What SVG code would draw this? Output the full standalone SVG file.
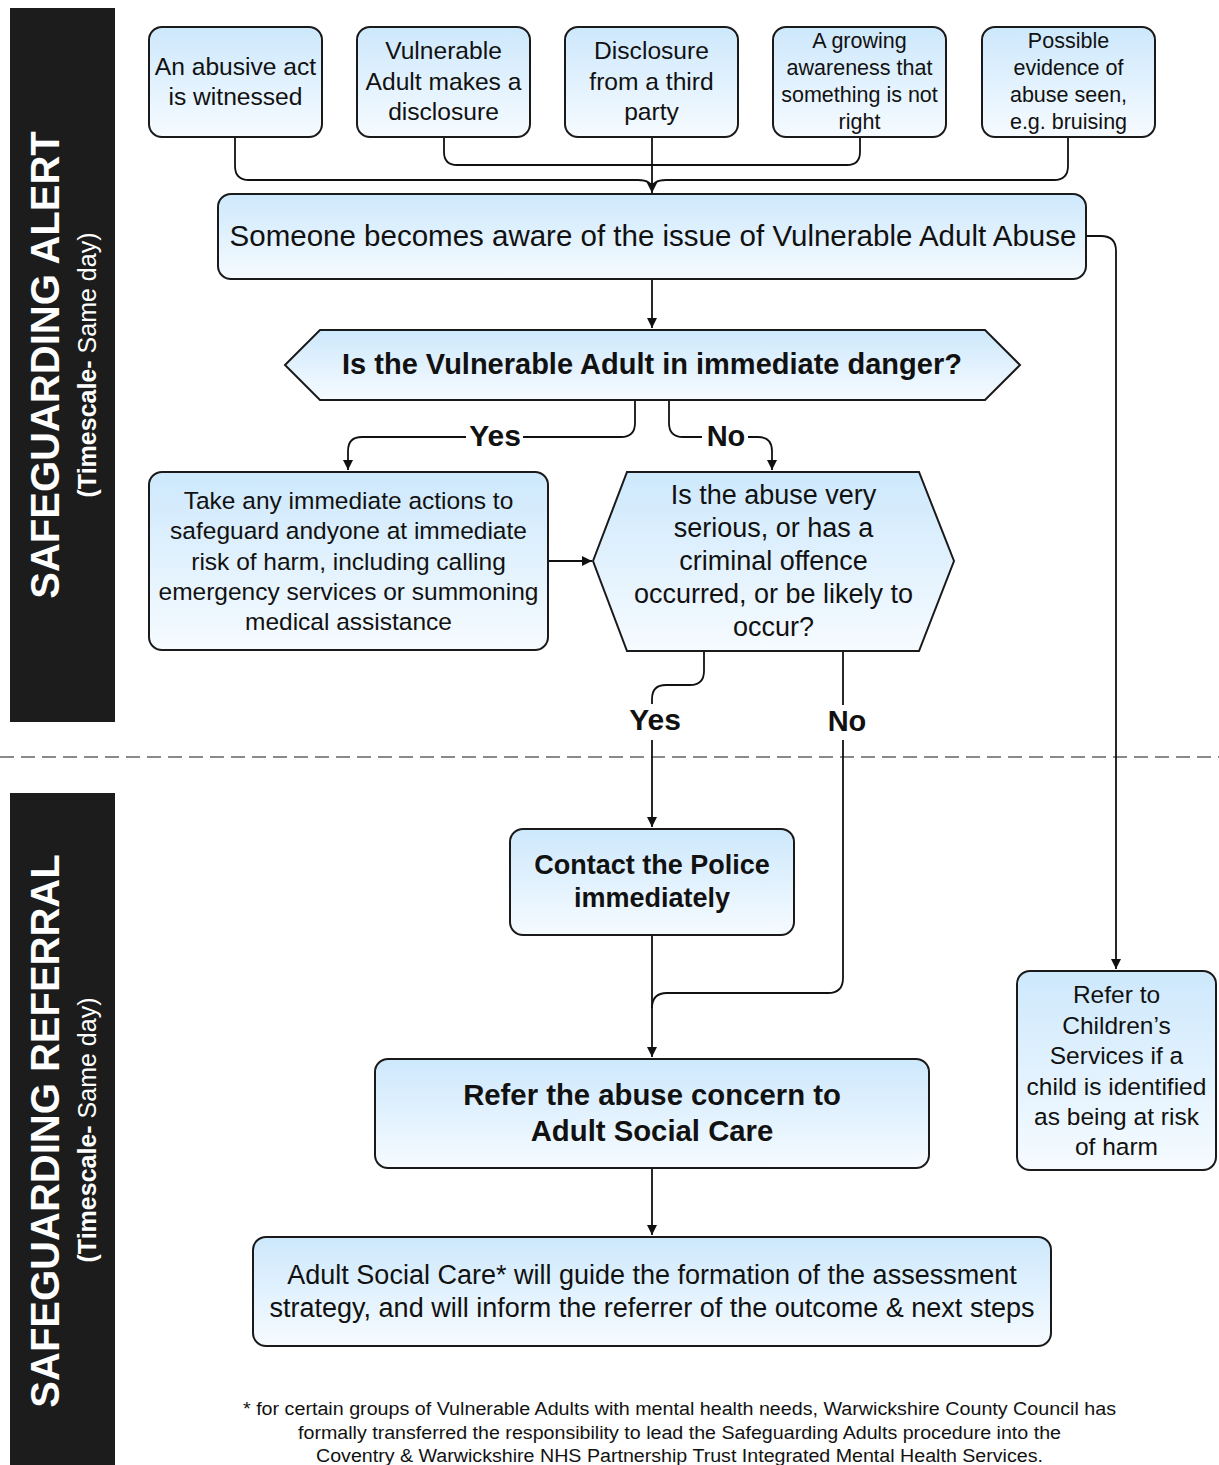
<svg xmlns="http://www.w3.org/2000/svg" width="1219" height="1465" viewBox="0 0 1219 1465">
<defs>
<linearGradient id="g" x1="0" y1="0" x2="0" y2="1">
<stop offset="0" stop-color="#cde8fc"/>
<stop offset="1" stop-color="#f6fbff"/>
</linearGradient>
<marker id="arr" markerUnits="userSpaceOnUse" markerWidth="12" markerHeight="12" refX="10" refY="6" orient="auto">
<path d="M0,1 L10,6 L0,11 Z" fill="#111"/>
</marker>
<style>
.box{fill:url(#g);stroke:#1a1a1a;stroke-width:2}
.t{font-family:"Liberation Sans",Arial,sans-serif;fill:#111;text-anchor:middle}
.b{font-weight:bold}
.c{fill:none;stroke:#111;stroke-width:1.8}
.a{marker-end:url(#arr)}
.bar{fill:#1c1c1c}
.w{font-family:"Liberation Sans",Arial,sans-serif;fill:#fff;text-anchor:middle}
</style>
</defs>
<rect width="1219" height="1465" fill="#fff"/>

<g id="bar-alert">
<rect class="bar" x="10" y="8" width="105" height="714"/>
<text class="w b" font-size="40" transform="translate(59,365) rotate(-90)">SAFEGUARDING ALERT</text>
<text class="w" font-size="25" transform="translate(96,365) rotate(-90)"><tspan font-weight="bold">(Timescale-</tspan> Same day)</text>
</g>
<g id="bar-referral">
<rect class="bar" x="10" y="793" width="105" height="672"/>
<text class="w b" font-size="40" transform="translate(59,1131) rotate(-90)">SAFEGUARDING REFERRAL</text>
<text class="w" font-size="25" transform="translate(96,1130) rotate(-90)"><tspan font-weight="bold">(Timescale-</tspan> Same day)</text>
</g>

<line x1="0" y1="757" x2="1219" y2="757" stroke="#8a8a8a" stroke-width="2" stroke-dasharray="14,7"/>

<g id="connectors">
<path class="c" d="M235,137 V166 Q235,180 249,180 H638 Q652,180 652,190"/>
<path class="c" d="M444,137 V152 Q444,165 457,165 H652"/>
<path class="c a" d="M652,137 V193"/>
<path class="c" d="M860,137 V152 Q860,165 847,165 H652"/>
<path class="c" d="M1068,137 V166 Q1068,180 1054,180 H666 Q652,180 652,190"/>
<path class="c a" d="M652,279 V328"/>
<path class="c" d="M635,401 V423 Q635,437 621,437 H523"/>
<path class="c a" d="M466,437 H362 Q348,437 348,451 V470"/>
<path class="c" d="M669,401 V423 Q669,437 683,437 H702"/>
<path class="c a" d="M748,437 H758 Q772,437 772,451 V470"/>
<path class="c a" d="M548,561 H592"/>
<path class="c" d="M704,651 V671 Q704,685 690,685 H666 Q652,685 652,699 V704"/>
<path class="c a" d="M652,740 V827"/>
<path class="c" d="M843,651 V705"/>
<path class="c" d="M843,740 V978 Q843,993 828,993 H667 Q652,993 652,1008"/>
<path class="c a" d="M652,935 V1057"/>
<path class="c a" d="M652,1168 V1235"/>
<path class="c a" d="M1086,236 H1101 Q1116,236 1116,251 V969"/>
</g>

<g id="labels">
<text class="t b" font-size="30" x="495" y="446">Yes</text>
<text class="t b" font-size="29" x="726" y="446">No</text>
<text class="t b" font-size="30" x="655" y="730">Yes</text>
<text class="t b" font-size="29" x="847" y="731">No</text>
</g>

<g id="n1">
<rect class="box" x="149" y="27" width="173" height="110" rx="13"/>
<text class="t" font-size="24.6"><tspan x="235.5" y="75">An abusive act</tspan><tspan x="235.5" y="105">is witnessed</tspan></text>
</g>
<g id="n2">
<rect class="box" x="357" y="27" width="173" height="110" rx="13"/>
<text class="t" font-size="24.6"><tspan x="443.5" y="59">Vulnerable</tspan><tspan x="443.5" y="90">Adult makes a</tspan><tspan x="443.5" y="120">disclosure</tspan></text>
</g>
<g id="n3">
<rect class="box" x="565" y="27" width="173" height="110" rx="13"/>
<text class="t" font-size="24.6"><tspan x="651.5" y="59">Disclosure</tspan><tspan x="651.5" y="90">from a third</tspan><tspan x="651.5" y="120">party</tspan></text>
</g>
<g id="n4">
<rect class="box" x="773" y="27" width="173" height="110" rx="13"/>
<text class="t" font-size="21.5"><tspan x="859.5" y="48">A growing</tspan><tspan x="859.5" y="75">awareness that</tspan><tspan x="859.5" y="102">something is not</tspan><tspan x="859.5" y="129">right</tspan></text>
</g>
<g id="n5">
<rect class="box" x="982" y="27" width="173" height="110" rx="13"/>
<text class="t" font-size="21.5"><tspan x="1068.5" y="48">Possible</tspan><tspan x="1068.5" y="75">evidence of</tspan><tspan x="1068.5" y="102">abuse seen,</tspan><tspan x="1068.5" y="129">e.g. bruising</tspan></text>
</g>

<g id="aware">
<rect class="box" x="218" y="194" width="868" height="85" rx="13"/>
<text class="t" font-size="29.5" x="653" y="246">Someone becomes aware of the issue of Vulnerable Adult Abuse</text>
</g>

<g id="danger">
<polygon class="box" points="285,365 320,330 985,330 1020,365 985,400 320,400"/>
<text class="t b" font-size="29" x="652" y="374">Is the Vulnerable Adult in immediate danger?</text>
</g>

<g id="actions">
<rect class="box" x="149" y="472" width="399" height="178" rx="13"/>
<text class="t" font-size="24.5"><tspan x="348.5" y="509">Take any immediate actions to</tspan><tspan x="348.5" y="539">safeguard andyone at immediate</tspan><tspan x="348.5" y="570">risk of harm, including calling</tspan><tspan x="348.5" y="600">emergency services or summoning</tspan><tspan x="348.5" y="630">medical assistance</tspan></text>
</g>

<g id="serious">
<polygon class="box" points="593,561 627,472 919,472 954,561 919,651 627,651"/>
<text class="t" font-size="27"><tspan x="773.5" y="504">Is the abuse very</tspan><tspan x="773.5" y="537">serious, or has a</tspan><tspan x="773.5" y="570">criminal offence</tspan><tspan x="773.5" y="603">occurred, or be likely to</tspan><tspan x="773.5" y="636">occur?</tspan></text>
</g>

<g id="police">
<rect class="box" x="510" y="829" width="284" height="106" rx="13"/>
<text class="t b" font-size="27"><tspan x="652" y="874">Contact the Police</tspan><tspan x="652" y="907">immediately</tspan></text>
</g>

<g id="refer">
<rect class="box" x="375" y="1059" width="554" height="109" rx="13"/>
<text class="t b" font-size="29.3"><tspan x="652" y="1105">Refer the abuse concern to</tspan><tspan x="652" y="1141">Adult Social Care</tspan></text>
</g>

<g id="asc">
<rect class="box" x="253" y="1237" width="798" height="109" rx="13"/>
<text class="t" font-size="27"><tspan x="652" y="1284">Adult Social Care* will guide the formation of the assessment</tspan><tspan x="652" y="1317">strategy, and will inform the referrer of the outcome &amp; next steps</tspan></text>
</g>

<g id="children">
<rect class="box" x="1017" y="971" width="199" height="199" rx="13"/>
<text class="t" font-size="24.5"><tspan x="1116.5" y="1003">Refer to</tspan><tspan x="1116.5" y="1034">Children’s</tspan><tspan x="1116.5" y="1064">Services if a</tspan><tspan x="1116.5" y="1095">child is identified</tspan><tspan x="1116.5" y="1125">as being at risk</tspan><tspan x="1116.5" y="1155">of harm</tspan></text>
</g>

<g id="footnote">
<text class="t" font-size="18" x="679.5" y="1415" textLength="873" lengthAdjust="spacingAndGlyphs">* for certain groups of Vulnerable Adults with mental health needs, Warwickshire County Council has</text>
<text class="t" font-size="18" x="679.5" y="1439" textLength="763" lengthAdjust="spacingAndGlyphs">formally transferred the responsibility to lead the Safeguarding Adults procedure into the</text>
<text class="t" font-size="18" x="679.5" y="1462" textLength="727" lengthAdjust="spacingAndGlyphs">Coventry &amp; Warwickshire NHS Partnership Trust Integrated Mental Health Services.</text>
</g>
</svg>
